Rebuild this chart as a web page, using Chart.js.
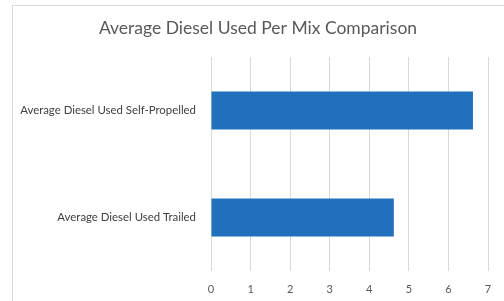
<!DOCTYPE html>
<html>
<head>
<meta charset="utf-8">
<script src="https://cdn.jsdelivr.net/npm/chart.js@4"></script>
<style>
  html, body { margin: 0; padding: 0; background: #fff; overflow: hidden; }
  #frame { position: absolute; left: 12px; top: 5px; width: 600px; height: 400px;
           border-left: 1px solid #d9d9d9; border-top: 1px solid #d9d9d9; }
  #wrap { position: absolute; left: 0; top: 0; width: 504px; height: 301px; }
</style>
</head>
<body>
<div id="frame"></div>
<div id="wrap"><canvas id="chart"></canvas></div>
<script>
// ─── Data ────────────────────────────────────────────────
const categories = ['Average Diesel Used Self-Propelled', 'Average Diesel Used Trailed'];
const dieselUsed = [6.62, 4.62];
const xTicks     = [0, 1, 2, 3, 4, 5, 6, 7];
const chartTitle = 'Average Diesel Used Per Mix Comparison';

const FONT = 'Lato, "Open Sans", sans-serif';

// Title centred on the outer chart frame (not on the plot), like the reference
const frameTitle = {
  id: 'frameTitle',
  afterDraw(chart) {
    const ctx = chart.ctx;
    ctx.save();
    ctx.font = `17.5px ${FONT}`;
    ctx.fillStyle = '#595959';
    ctx.textAlign = 'center';
    ctx.textBaseline = 'middle';
    ctx.fillText(chartTitle, 258, 28);
    ctx.restore();
  }
};

new Chart(document.getElementById('chart'), {
  type: 'bar',
  data: {
    labels: categories,
    datasets: [{
      label: 'Average Diesel Used',
      data: dieselUsed,
      backgroundColor: '#2170bd',
      barPercentage: 0.355,
      categoryPercentage: 1
    }]
  },
  options: {
    indexAxis: 'y',
    responsive: true, maintainAspectRatio: false,
    animation: false,
    layout: { padding: { left: 0, right: 16, top: 57, bottom: 0 } },
    plugins: {
      legend: { display: false },
      tooltip: { enabled: false },
      title: { display: false }
    },
    scales: {
      x: {
        min: xTicks[0], max: xTicks[xTicks.length - 1],
        afterBuildTicks: (axis) => { axis.ticks = xTicks.map(v => ({ value: v })); },
        grid: { color: '#d9d9d9', drawTicks: false },
        border: { display: false },
        ticks: { color: '#595959', padding: 12, font: { family: FONT, size: 11 } },
        afterFit: (axis) => { axis.height = 30; }
      },
      y: {
        grid: { display: false, drawTicks: false },
        border: { display: false },
        ticks: { color: '#404040', padding: 15, font: { family: FONT, size: 11.4 } },
        afterFit: (axis) => { axis.width = 211; }
      }
    }
  },
  plugins: [frameTitle]
});
</script>
</body>
</html>
